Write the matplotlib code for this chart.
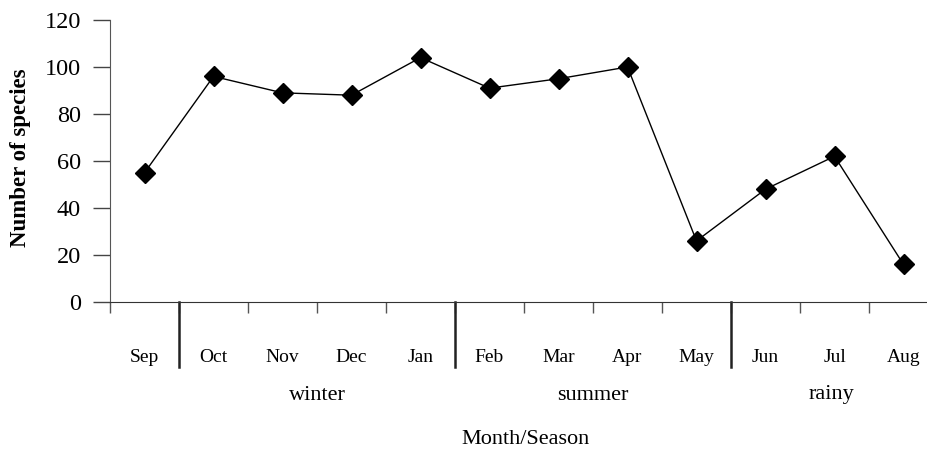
import matplotlib
matplotlib.use("Agg")
import matplotlib.pyplot as plt

months = ["Sep", "Oct", "Nov", "Dec", "Jan", "Feb", "Mar", "Apr", "May", "Jun", "Jul", "Aug"]
species = [55, 96, 89, 88, 104, 91, 95, 100, 26, 48, 62, 16]
seasons = ["winter", "summer", "rainy"]
season_spans = [(1, 4), (5, 8), (9, 11)]  # index ranges (inclusive)
yticks = [0, 20, 40, 60, 80, 100, 120]

plt.rcParams['font.family'] = ['Liberation Serif', 'DejaVu Serif']

W, H = 927, 453
fig = plt.figure(figsize=(W / 100, H / 100), dpi=100)
ax_left, ax_right, ax_top, ax_bot = 110, 938, 20, 302
ax = fig.add_axes([ax_left / W, (H - ax_bot) / H, (ax_right - ax_left) / W, (ax_bot - ax_top) / H])

x = list(range(len(months)))
ax.plot(x, species, color="black", lw=1.0, marker="D", markersize=10,
        markerfacecolor="black", markeredgecolor="black", zorder=3)

ax.set_xlim(-0.5, len(months) - 0.5)
ax.set_ylim(0, 120)
ax.set_yticks(yticks)
ax.set_yticklabels([str(v) for v in yticks], fontsize=17.5)
ax.tick_params(axis="y", length=12, width=1, color="#444444", pad=9)

bounds = [i - 0.5 for i in range(len(months))]
ax.set_xticks(bounds)
ax.set_xticklabels([])
ax.tick_params(axis="x", length=8, width=1, color="#555555", direction="out")

for s in ["top", "right"]:
    ax.spines[s].set_visible(False)
ax.spines["left"].set_color("#555555")
ax.spines["bottom"].set_color("#333333")

trans = ax.get_xaxis_transform()
ph = ax_bot - ax_top
def yfrac(py):
    return (ax_bot - py) / ph

# Month labels
for i, m in enumerate(months):
    ax.text(i, yfrac(357), m, transform=trans, ha="center", va="center", fontsize=14,
            clip_on=False)

# Season separators
for (a, b) in season_spans:
    ax.plot([a - 0.5, a - 0.5], [0, yfrac(367)], transform=trans, color="#222222", lw=1.8, clip_on=False)

# Season labels
season_centers = [(a + b) / 2 for (a, b) in season_spans]
season_centers[2] = 9.95
for name, c in zip(seasons, season_centers):
    ax.text(c, yfrac(395), name, transform=trans, ha="center", va="center", fontsize=16,
            clip_on=False)

fig.text(21 / W, 1 - 158 / H, "Number of species", rotation=90, ha="center", va="center",
         fontsize=16.5, fontweight="bold")
fig.text(525 / W, 1 - 440 / H, "Month/Season", ha="center", va="center", fontsize=16)

fig.savefig("out.png", dpi=100)
